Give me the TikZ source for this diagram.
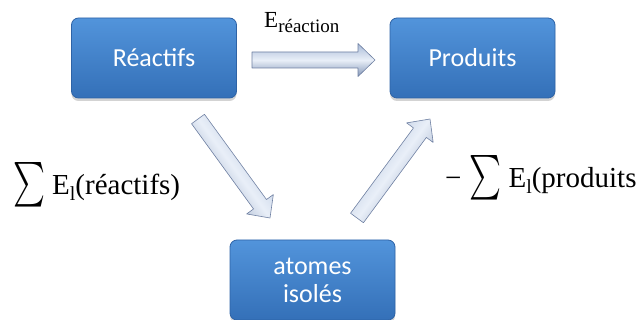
\documentclass[tikz,border=0pt]{standalone}
\usepackage{fontspec}
\usepackage{graphicx}
\usetikzlibrary{calc,shadows}
\newfontfamily\carlito{Carlito}
\newfontfamily\lserif{Liberation Serif}
\definecolor{boxtop}{HTML}{5294DB}
\definecolor{boxbot}{HTML}{3470B8}
\definecolor{boxedge}{HTML}{2E63A6}
\definecolor{artop}{HTML}{A9BBD8}
\definecolor{armid}{HTML}{E9EFF8}
\definecolor{arbot}{HTML}{8497B8}
\definecolor{aredge}{HTML}{6F80A2}
\newcommand\sumbox{\raisebox{-18pt}{\resizebox*{32pt}{50pt}{$\sum$}}}
\newcommand\sublow[1]{\raisebox{-6pt}{\fontsize{20}{20}\selectfont #1}}
\newcommand\blockarrow[3]{%
  \coordinate (#1#2n) at ($(#2)!17pt!(#1)$);
  \path[barrow, shading angle=#3]
    ($(#1)!8pt!90:(#2)$) -- ($(#1#2n)!8pt!90:(#2)$) -- ($(#1#2n)!16.5pt!90:(#2)$)
    -- (#2) -- ($(#1#2n)!16.5pt!-90:(#2)$) -- ($(#1#2n)!8pt!-90:(#2)$)
    -- ($(#1)!8pt!-90:(#2)$) -- cycle;}
\tikzset{
  box/.style={rectangle, rounded corners=7pt, draw=boxedge, line width=0.8pt,
    top color=boxtop, bottom color=boxbot, text=white,
    font=\carlito\fontsize{26}{28}\selectfont, align=center,
    minimum width=165pt, minimum height=80pt, inner sep=0pt,
    drop shadow={opacity=0.35, shadow xshift=0pt, shadow yshift=-3pt}},
  barrow/.style={top color=artop, bottom color=arbot, middle color=armid,
    draw=aredge, line width=0.6pt, line join=round},
  lbl/.style={inner sep=0pt, anchor=base west, font=\lserif\fontsize{29}{32}\selectfont}
}
\begin{document}
\begin{tikzpicture}[x=1pt,y=-1pt]
\useasboundingbox (0,0) rectangle (640,320);
\node[box] (react) at (154,58) {Réactifs};
\node[box] (prod) at (472.5,58) {Produits};
\node[box] (atom) at (312.5,280) {atomes\\isolés};
\coordinate (h1) at (252,60);
\coordinate (h2) at (375,60);
\coordinate (d1) at (198,119);
\coordinate (d2) at (270,218);
\coordinate (u1) at (357,218);
\coordinate (u2) at (430,119);
\blockarrow{h1}{h2}{0}
\blockarrow{d1}{d2}{-54}
\blockarrow{u1}{u2}{54}
\node[lbl, font=\lserif\fontsize{23}{26}\selectfont] (ereac) at (264,28) {E\raisebox{-5pt}{\fontsize{19}{19}\selectfont réaction}};
\node[lbl] (lreac) at (13,195) {\sumbox\hspace{7pt}E\sublow{l}(réactifs)};
\node[lbl] (lprod) at (445,188) {−\hspace{8pt}\sumbox\hspace{7pt}E\sublow{l}(produits};
\end{tikzpicture}
\end{document}
